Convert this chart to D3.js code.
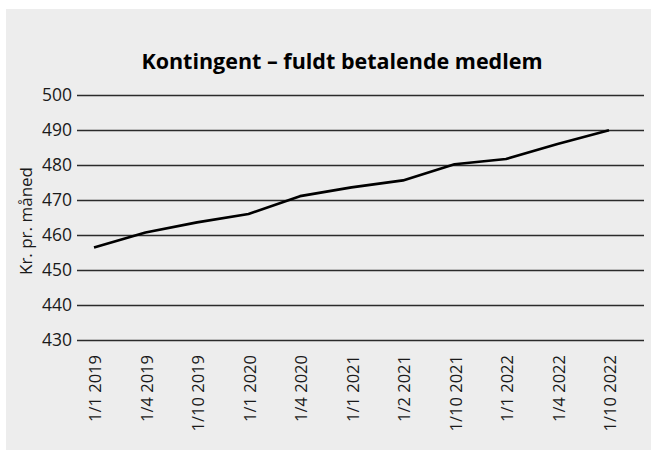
<!DOCTYPE html>
<html>
<head>
<meta charset="utf-8">
<script src="https://cdn.jsdelivr.net/npm/d3@7"></script>
<style>
  body { margin: 0; background: #fff; }
  svg { display: block; font-family: "Open Sans", sans-serif; }
</style>
</head>
<body>
<script>
// data
const dates = ["1/1 2019", "1/4 2019", "1/10 2019", "1/1 2020", "1/4 2020", "1/1 2021",
  "1/2 2021", "1/10 2021", "1/1 2022", "1/4 2022", "1/10 2022"];
const kontingent = [456.4, 460.7, 463.6, 466.0, 471.1, 473.6, 475.6, 480.2, 481.7, 486.0, 489.9];
const yTicks = [430, 440, 450, 460, 470, 480, 490, 500];
const title = "Kontingent – fuldt betalende medlem";
const yTitle = "Kr. pr. måned";

const w = 651, h = 450;
const plotLeft = 77, plotRight = 644, plotTop = 95, plotBottom = 340;

const svg = d3.select("body").append("svg")
  .attr("width", w)
  .attr("height", h);

// gray panel
svg.append("rect")
  .attr("x", 6).attr("y", 9)
  .attr("width", w - 6).attr("height", h - 9)
  .attr("fill", "#ededed");

var x = d3.scalePoint().domain(dates).range([94, 609]);
var y = d3.scaleLinear().domain([430, 500]).range([plotBottom, plotTop]);

// gridlines + labels
var yAxis = svg.append("g")
  .attr("transform", "translate(" + plotLeft + ",0)")
  .call(d3.axisLeft(y).tickValues(yTicks).tickSize(-(plotRight - plotLeft)).tickPadding(5));
yAxis.select(".domain").remove();
yAxis.selectAll(".tick line").attr("stroke", "#2b2b2b").attr("stroke-width", 1.4);
yAxis.selectAll(".tick text")
  .attr("font-size", 17.5)
  .attr("font-family", "Open Sans")
  .attr("fill", "#1a1a1a");

// category labels
var xAxis = svg.append("g")
  .attr("transform", "translate(0," + plotBottom + ")")
  .call(d3.axisBottom(x).tickSize(0));
xAxis.select(".domain").remove();
xAxis.selectAll(".tick text")
  .attr("font-size", 16.5)
  .attr("font-family", "Open Sans")
  .attr("fill", "#1a1a1a")
  .attr("text-anchor", "end")
  .attr("transform", "rotate(-90)")
  .attr("x", -15)
  .attr("y", 1)
  .attr("dy", "0.35em");

// the line
var line = d3.line()
  .x(function (d, i) { return x(dates[i]); })
  .y(function (d) { return y(d); });

svg.append("path")
  .datum(kontingent)
  .attr("fill", "none")
  .attr("stroke", "#000")
  .attr("stroke-width", 2.6)
  .attr("stroke-linejoin", "round")
  .attr("d", line);

// title
svg.append("text")
  .attr("x", 342)
  .attr("y", 69)
  .attr("text-anchor", "middle")
  .attr("font-size", 21.5)
  .attr("font-weight", "bold")
  .attr("fill", "#000")
  .text(title);

// y axis title
svg.append("text")
  .attr("transform", "translate(32,221) rotate(-90)")
  .attr("text-anchor", "middle")
  .attr("font-size", 17)
  .attr("fill", "#1a1a1a")
  .text(yTitle);
</script>
</body>
</html>
